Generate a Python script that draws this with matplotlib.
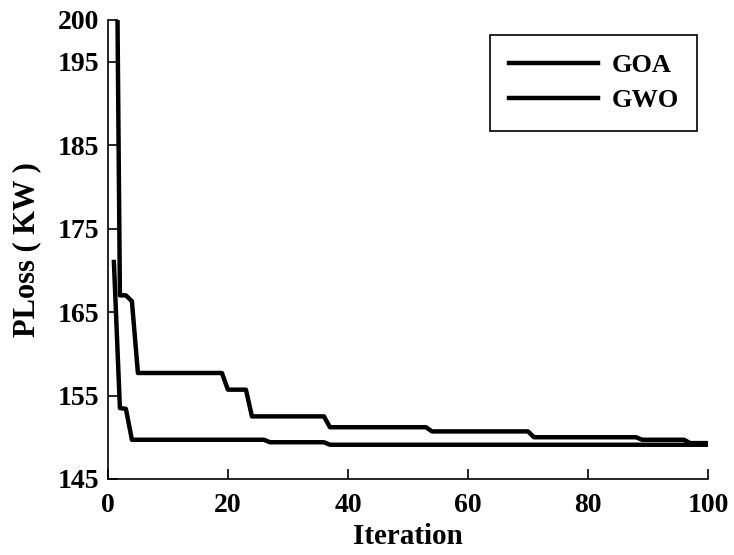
import numpy as np
import matplotlib
matplotlib.use('Agg')
import matplotlib.pyplot as plt

plt.rcParams['font.family'] = ['Liberation Serif', 'DejaVu Serif']
plt.rcParams['font.weight'] = 'bold'

# convergence curves (iteration 1..100)
iteration = np.arange(1, 101)
goa = ([250, 167, 167, 166.3] + [157.7]*15 + [155.7]*4 + [152.5]*13 +
       [151.2]*17 + [150.7]*17 + [150.0]*18 + [149.7]*8 + [149.3]*4)
gwo = [171, 153.5, 153.4] + [149.7]*23 + [149.4]*10 + [149.1]*64

xticks = [0, 20, 40, 60, 80, 100]
yticks = [145, 155, 165, 175, 185, 195, 200]

fig = plt.figure(figsize=(7.34, 5.55), dpi=100)
ax = fig.add_axes([0.147, 0.137, 0.8176, 0.827])

ax.plot(iteration, goa, color='black', lw=3.2, label='GOA')
ax.plot(iteration, gwo, color='black', lw=3.2, label='GWO')

ax.set_xlim(0, 100)
ax.set_ylim(145, 200)
ax.set_xticks(xticks)
ax.set_yticks(yticks)
ax.tick_params(direction='in', length=7, width=1.2, labelsize=20)
ax.tick_params(axis='x', pad=10)
ax.tick_params(axis='y', pad=6)
for s in ['top', 'right']:
    ax.spines[s].set_visible(False)
for s in ['left', 'bottom']:
    ax.spines[s].set_linewidth(1.2)

ax.set_xlabel('Iteration', fontsize=21, fontweight='bold', labelpad=4)
ax.set_ylabel('PLoss ( KW )', fontsize=22, fontweight='bold', labelpad=12)

leg = ax.legend(loc='upper right', bbox_to_anchor=(0.982, 0.967), fontsize=19,
                handlelength=3.4, fancybox=False, framealpha=1,
                edgecolor='black', borderpad=0.7, labelspacing=0.45,
                handletextpad=0.5, borderaxespad=0)
leg.get_frame().set_linewidth(1.2)

fig.savefig('out.png', dpi=100)
